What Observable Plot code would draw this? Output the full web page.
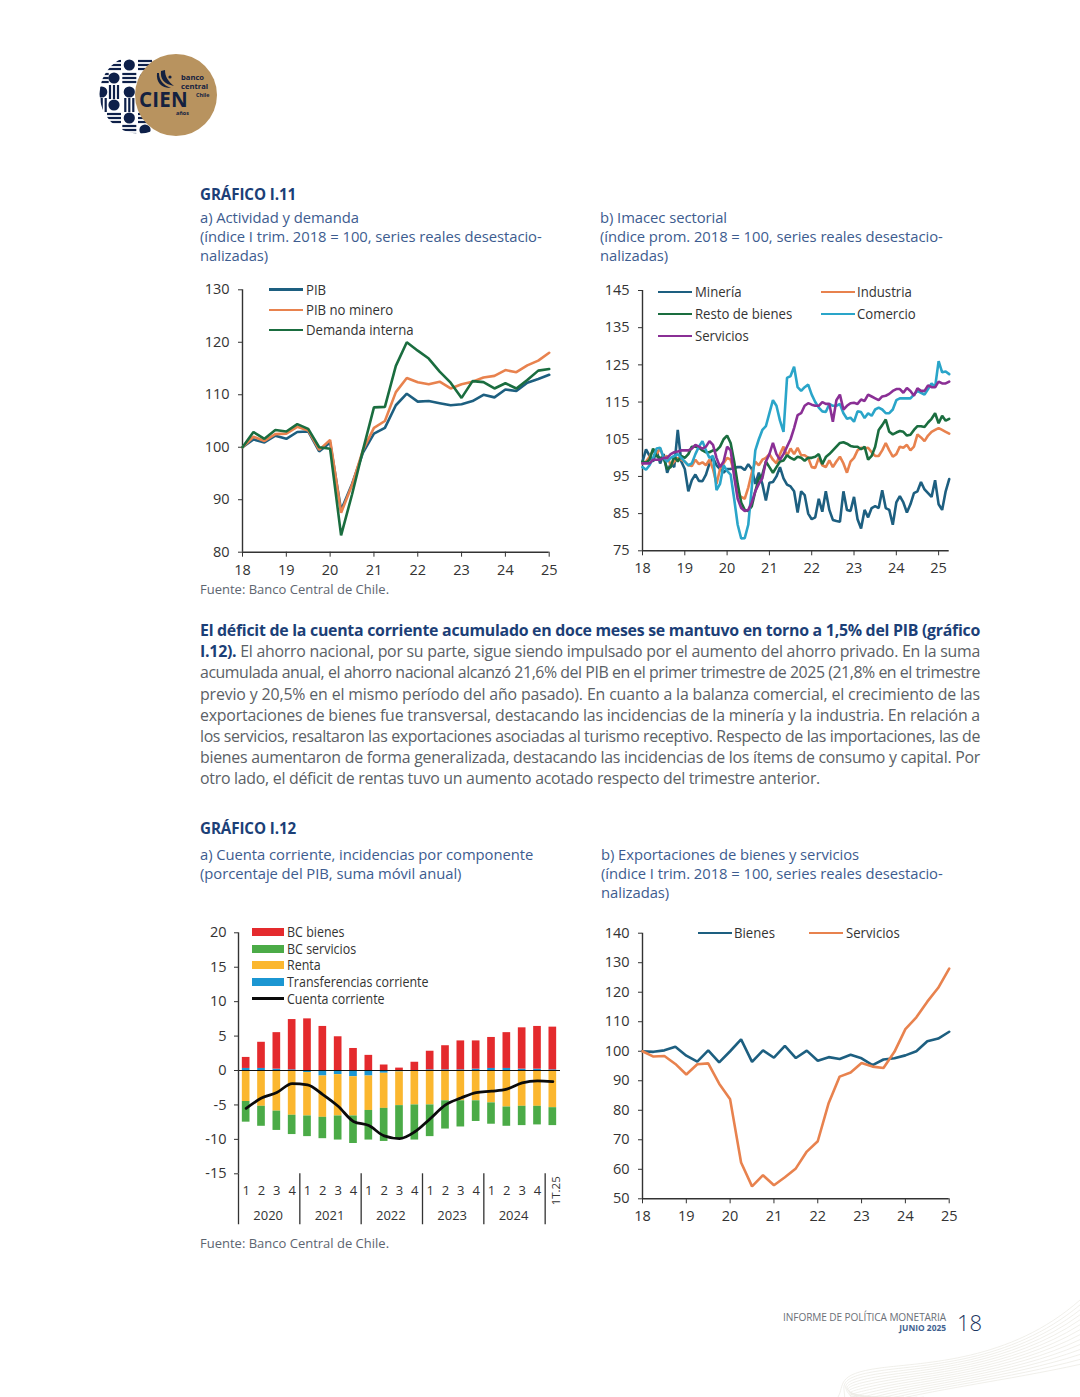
<!DOCTYPE html>
<html lang="es"><head><meta charset="utf-8">
<script src="https://cdn.jsdelivr.net/npm/d3@7"></script>
<script src="https://cdn.jsdelivr.net/npm/@observablehq/plot@0.6"></script>
<style>
html,body{margin:0;padding:0;background:#fff}
#page{position:relative;width:1080px;height:1397px;overflow:hidden;font-family:"Open Sans",sans-serif;background:#fff}
.t{position:absolute;white-space:nowrap}
.h{font-weight:700;font-size:15.2px;color:#1c3f77;letter-spacing:-.1px}
.s{font-size:14.8px;color:#3d5c8f;letter-spacing:-.05px}
.f{font-size:13px;color:#5d6570}
.b{left:200px;font-size:15.9px;color:#5b5f66;line-height:20px}
.b b{color:#1c3f77;font-weight:700}
.lg{position:absolute;font-size:14px;color:#333;line-height:16px;white-space:nowrap;transform-origin:0 50%;transform:scaleX(.94) translateY(-50%)}
.key{position:absolute}
.c{position:absolute}
svg{overflow:visible}
</style></head><body>
<div id="page"></div>
<script>
// ---------- chart I.11 a: Actividad y demanda (quarterly) ----------
const pib = [100,101.5,100.9,102.2,101.6,102.9,103,99.2,100.9,88,93,99,102.6,103.7,108,110.2,108.7,108.8,108.4,108,108.2,108.8,110,109.5,111,110.7,112.3,113,113.8];
const pibNoMinero = [100,102,101.2,102.5,102.6,103.9,103.2,99.5,101.4,87.5,92.8,99.5,103.7,105,110.5,113.2,112.4,112,112.5,111.2,112,112.5,113.3,113.6,114.7,114.3,115.6,116.5,118];
const demandaInterna = [100,102.9,101.6,103.3,103,104.4,103.5,100,99.7,83.2,91,99.5,107.6,107.7,115.5,120,118.4,116.9,114.4,112.3,109.4,112.6,112.4,111.2,112.2,111.2,112.8,114.6,114.9];
// ---------- chart I.11 b: Imacec sectorial (monthly, Jan-18 to Apr-25) ----------
const mineria = [99,102.3,100.5,99,102,98.5,101,96,98.5,97.5,107.5,99,97,91,94,95.5,93.8,93.7,95.5,98.5,100,98,97,96,97,97,97.3,97.5,97.5,96.7,98.3,97,93,96,93,88.5,93.3,93.5,95,97.5,94.5,92.8,92.3,91,85.3,91,90,85,83.5,84,89,85.5,91,86,83.3,83,82.8,91,86,85.7,89.5,83.5,81,86,84,86.5,87,86.5,91.3,86.5,86,82,88,89.7,88,85.3,87.5,90.5,91,93.5,91.5,90.5,89.5,94,87.5,86,91,94.3];
const industria = [98.5,99,100.3,102,101,102.5,100,100.5,98,99,100,99.5,99,98,97.8,99.5,98.3,98.8,98,99.5,97,93,97,98.5,100,99.5,96,90,89.5,89,92,96,99,98,99.5,100,101,99.5,98.5,101,103,100.5,102.5,101,102.7,100.7,100.7,100,97.5,97.3,100,98,97.5,99.3,97.5,99,100.3,98.5,96,99,100,102,102.7,102.5,102.7,101.5,100.5,100.5,102,104,102,100.3,101,103,102.7,103.5,102,103,106.3,105.5,104.5,106,107,107.5,108,107.5,107,106.5];
const restoBienes = [99,98.7,99.5,102.5,100.5,100,100,97,97.5,100.5,99,100.5,100,101,103,103,102.8,102,101.5,101.5,102,102,103,105,106,104,99,93,88,86,85.7,87,91,94.5,95.5,99,97.5,96,97.5,99,99.3,100.7,100,99.5,100.3,100,99.2,100,100,100.3,101,98.3,100.2,101,102,103,104,104.2,103.8,103.2,103,103,102.3,103,99.5,100.5,103,107.5,108.8,110.3,107,106.3,106.8,107.2,107,106,106.2,107.5,108.5,108.5,108.3,109.5,110.5,112,109.3,111.3,110,110.5];
const comercio = [97.5,96.8,98,100,102.5,102.7,100,99,100,100.5,101,100,99,98,98.5,101,103,104.5,102,100,100.5,91.3,93,98,96.5,95.5,89,82,78.3,78.4,82,92,102,105,107.5,108.5,112,115.5,114,110,107,121.5,122,124.5,119,118,119,119.7,117,115,113.5,112.5,112.3,114.5,114,114,114.5,112,110.5,110.8,109.7,112.5,112.3,110.7,112,111.3,113,113.5,113,112,112,113,115.5,116,116,116,116,117,118,117.5,117,118.5,120,119,126,123,123.2,122.5];
const servicios = [98.5,98.5,98.5,99.5,99.5,99.5,100,100,101,101.5,101.7,102,102,102,102.5,103.5,103,102.5,103,104.5,103.5,100,97.5,99,103,102,95,89,86.5,85.7,86,88,91,93,94.5,99,101,104,101,99.5,101,103,105,108,111.5,112,114,114.7,114.3,114,114,115,114.5,114.5,109.7,115.5,117,113,114,114.7,114.8,114.5,115.7,115.3,117,116.5,116,115.5,116.5,116.7,117.2,118,118.5,118.5,117.5,118.8,118,116.7,118.7,118,118,119.5,119,119,120.5,120,120,120.5];
// ---------- chart I.12 a: Cuenta corriente ----------
const trimestres = ["1","2","3","4","1","2","3","4","1","2","3","4","1","2","3","4","1","2","3","4","1T.25"];
const anios = ["2020","2021","2022","2023","2024"];
const bcBienes = [1.6,3.8,5.3,7.3,7.5,6.4,4.9,3.2,2.2,.8,.35,1.2,2.7,3.5,4.2,4.1,4.5,5.2,6,6.2,6.2];
const bcServicios = [-3,-2.9,-2.8,-2.8,-3,-3.1,-3.5,-4,-4.3,-4.8,-4.9,-5.1,-4.6,-4.1,-3.8,-3,-3.1,-2.8,-2.8,-2.7,-2.6];
const renta = [-4.5,-5.2,-5.9,-6.5,-6.3,-6,-6,-5.7,-5,-5.1,-4.9,-5,-5,-4.4,-4.4,-4.4,-4.7,-5.3,-5.2,-5.2,-5.4];
const transferencias = [.3,.3,.2,.1,-.3,-.8,-.6,-.9,-.8,-.4,-.2,0,.1,.1,.1,.2,.3,.3,.2,.2,.1];
const cuentaCorriente = [-5.5,-4,-3.2,-1.9,-2.1,-3.5,-5.2,-7.4,-8,-9.5,-9.9,-8.9,-7,-5,-4,-3.2,-3,-2.7,-1.8,-1.5,-1.6];
// ---------- chart I.12 b: Exportaciones ----------
const bienes = [100,99.8,100.3,101.5,98.5,96.5,100.3,96.2,100,104,96.4,100.3,97.8,101.8,97.7,100.2,96.8,98,97.4,98.8,97.6,95.3,97.2,97.6,98.6,100,103.4,104.3,106.6];
const serviciosX = [100,98.2,98.4,95.7,92.1,95.6,95.9,89,83.7,62.3,54.2,58,54.6,57.3,60.3,66,69.5,82.5,91.4,92.8,96,94.8,94.3,99.8,107.5,111.5,116.8,121.5,128];
const years = [18,19,20,21,22,23,24,25];
// colours
const cBlue="#1d5f80",cOrange="#e8824e",cGreen="#1a6d3f",cSky="#2aa5c9",cPurple="#8a2f95";
const FONT='"Open Sans",sans-serif', INK="#333";
const page=document.getElementById("page");
function put(el,l,t){const d=document.createElement("div");d.className="c";d.style.left=l+"px";d.style.top=t+"px";d.appendChild(el);page.appendChild(d);}
function text(cls,l,t,html,extra){const d=document.createElement("div");d.className="t "+cls;d.style.left=l+"px";d.style.top=t+"px";d.innerHTML=html;if(extra)d.style.cssText+=extra;page.appendChild(d);return d;}
function label(tx,y,s,sx){const l=document.createElement("div");l.className="lg";l.style.left=tx+"px";l.style.top=y+"px";l.textContent=s;if(sx)l.style.transform=`scaleX(${sx}) translateY(-50%)`;page.appendChild(l);}
function lineKey(x1,x2,y,color,s,tx,sx){
  const k=document.createElement("div");k.className="key";k.style.cssText=`left:${x1}px;top:${y-1.25}px;width:${x2-x1}px;height:2.5px;background:${color}`;page.appendChild(k);
  label(tx,y,s,sx);
}
function boxKey(x1,x2,y,color,s,tx,sx){
  const k=document.createElement("div");k.className="key";k.style.cssText=`left:${x1}px;top:${y-4}px;width:${x2-x1}px;height:8px;background:${color}`;page.appendChild(k);
  label(tx,y,s,sx);
}
function linesChart(o){
  const marks=[
    Plot.ruleX([o.xd[0]],{stroke:INK,strokeWidth:1.4}),
    Plot.ruleY([o.yd[0]],{stroke:INK,strokeWidth:1.4}),
    Plot.axisY({ticks:o.yt,tickSize:4,tickPadding:9,fontSize:14.5,label:null,tickFormat:d=>String(d),stroke:INK,fill:INK}),
    Plot.axisX({ticks:years,tickSize:5,tickPadding:o.xpad,fontSize:14.5,label:null,tickFormat:d=>String(d),stroke:INK,fill:INK})
  ];
  for(const s of o.series) marks.push(Plot.line(s.v,{x:(d,i)=>18+i/o.per,y:d=>d,stroke:s.c,strokeWidth:2.6,strokeLinejoin:"miter"}));
  return Plot.plot({width:o.w,height:o.h,marginLeft:o.ml,marginRight:o.mr,marginTop:o.mt,marginBottom:o.mb,
    x:{domain:o.xd},y:{domain:o.yd},style:{fontFamily:FONT,background:"transparent",color:INK},marks});
}
// ---- chart A
put(linesChart({w:380,h:310,ml:52,mr:21.3,mt:14.3,mb:33.3,xpad:8,xd:[18,25],yd:[80,130],yt:[80,90,100,110,120,130],per:4,
  series:[{v:pib,c:cBlue},{v:pibNoMinero,c:cOrange},{v:demandaInterna,c:cGreen}]}),190,275);
// ---- chart B
put(linesChart({w:380,h:310,ml:52,mr:21.3,mt:15,mb:34.7,xpad:7,xd:[18,25.25],yd:[75,145],yt:[75,85,95,105,115,125,135,145],per:12,
  series:[{v:mineria,c:cBlue},{v:industria,c:cOrange},{v:restoBienes,c:cGreen},{v:comercio,c:cSky},{v:servicios,c:cPurple}]}),590,275);
// ---- chart C
const qKeys=trimestres.map((q,i)=>"q"+i);
const comps=[["Transferencias corriente",transferencias,"#1b96d2"],["Renta",renta,"#fbb72f"],["BC servicios",bcServicios,"#4bab47"],["BC bienes",bcBienes,"#e42a2d"]];
const stackRows=comps.flatMap(([name,vals])=>vals.map((v,i)=>({name,k:qKeys[i],v})));
const step=322/21;
const bottom=-22.4;
const chartC=Plot.plot({width:380,height:330,marginLeft:48,marginRight:10,marginTop:17.3,marginBottom:71.7,
  x:{domain:qKeys,paddingInner:.5,paddingOuter:.25,round:false,axis:null},
  y:{domain:[-15,20],axis:null},
  color:{domain:comps.map(c=>c[0]),range:comps.map(c=>c[2])},
  style:{fontFamily:FONT,background:"transparent",color:INK},
  marks:[
    Plot.barY(stackRows,{x:"k",y:"v",fill:"name",order:null}),
    Plot.ruleY([0],{stroke:"#111",strokeWidth:1.1}),
    Plot.line(cuentaCorriente,{x:(d,i)=>qKeys[i],y:d=>d,stroke:"#0b0b0b",strokeWidth:2.8,curve:"monotone-x"}),
    Plot.ruleX([qKeys[0]],{x:d=>d,y1:20,y2:-15,dx:-step/2,stroke:INK,strokeWidth:1.4}),
    Plot.axisY({ticks:[-15,-10,-5,0,5,10,15,20],tickSize:4,tickPadding:8,fontSize:14.5,label:null,tickFormat:d=>String(d),stroke:INK,fill:INK}),
    Plot.ruleX(qKeys.filter((k,i)=>i%4===0),{x:d=>d,y1:-15,y2:bottom,dx:-step/2,stroke:INK,strokeWidth:1.3}),
    Plot.text(qKeys.slice(0,20),{x:d=>d,y:-15,text:(d,i)=>trimestres[i],dy:17,fontSize:13,fill:INK}),
    Plot.text(["q20"],{x:d=>d,y:-15,text:()=>trimestres[20],dx:3.5,dy:17,rotate:-90,fontSize:11.5,fill:INK}),
    Plot.text(anios,{x:(d,i)=>qKeys[i*4+1],y:-15,text:d=>d,dx:step/2-1,dy:42.5,fontSize:13,fill:INK})
  ]});
put(chartC,190,915);
// ---- chart D
put(linesChart({w:380,h:310,ml:52,mr:21.3,mt:17.7,mb:26.7,xpad:7,xd:[18,25],yd:[50,140],yt:[50,60,70,80,90,100,110,120,130,140],per:4,
  series:[{v:bienes,c:cBlue},{v:serviciosX,c:cOrange}]}),590,915);
// ---- legends
lineKey(269,303,289.5,cBlue,"PIB",306);lineKey(269,303,310,cOrange,"PIB no minero",306);lineKey(269,303,330,cGreen,"Demanda interna",306);
lineKey(658,692,292,cBlue,"Minería",695);lineKey(658,692,314,cGreen,"Resto de bienes",695);lineKey(658,692,336,cPurple,"Servicios",695);
lineKey(821,855,292,cOrange,"Industria",857);lineKey(821,855,314,cSky,"Comercio",857);
boxKey(252,284,932,"#e42a2d","BC bienes",287,.89);boxKey(252,284,948.5,"#4bab47","BC servicios",287,.89);boxKey(252,284,965,"#fbb72f","Renta",287,.89);boxKey(252,284,982,"#1b96d2","Transferencias corriente",287,.89);
lineKey(252,284,998.5,"#0b0b0b","Cuenta corriente",287,.89);
lineKey(698,732,933,cBlue,"Bienes",734);lineKey(809,843,933,cOrange,"Servicios",846);
// ---- page text
text("h",200,184,"GRÁFICO I.11");
text("s",200,207,"a) Actividad y demanda");text("s",200,226,"(índice I trim. 2018 = 100, series reales desestacio-");text("s",200,245,"nalizadas)");
text("s",600,207,"b) Imacec sectorial");text("s",600,226,"(índice prom. 2018 = 100, series reales desestacio-");text("s",600,245,"nalizadas)");
text("f",200,580,"Fuente: Banco Central de Chile.");
const body=[
"<b>El déficit de la cuenta corriente acumulado en doce meses se mantuvo en torno a 1,5% del PIB (gráfico</b>",
"<b>I.12).</b> El ahorro nacional, por su parte, sigue siendo impulsado por el aumento del ahorro privado. En la suma",
"acumulada anual, el ahorro nacional alcanzó 21,6% del PIB en el primer trimestre de 2025 (21,8% en el trimestre",
"previo y 20,5% en el mismo período del año pasado). En cuanto a la balanza comercial, el crecimiento de las",
"exportaciones de bienes fue transversal, destacando las incidencias de la minería y la industria. En relación a",
"los servicios, resaltaron las exportaciones asociadas al turismo receptivo. Respecto de las importaciones, las de",
"bienes aumentaron de forma generalizada, destacando las incidencias de los ítems de consumo y capital. Por",
"otro lado, el déficit de rentas tuvo un aumento acotado respecto del trimestre anterior."];
const bodyY=[620,641,662,683.5,705,726,747,768];
body.forEach((l,i)=>{
  const d=text("b",200,bodyY[i],l);
  const target=i===body.length-1?620:780;
  const w=d.getBoundingClientRect().width;
  d.style.letterSpacing=((target-w)/d.textContent.length)+"px";
});
text("h",200,818,"GRÁFICO I.12");
text("s",200,844,"a) Cuenta corriente, incidencias por componente");text("s",200,863,"(porcentaje del PIB, suma móvil anual)");
text("s",601,844,"b) Exportaciones de bienes y servicios");text("s",601,863,"(índice I trim. 2018 = 100, series reales desestacio-");text("s",601,882,"nalizadas)");
text("f",200,1234,"Fuente: Banco Central de Chile.");
text("f",0,1310,"INFORME DE POLÍTICA MONETARIA","left:auto;right:134px;font-size:10.1px;color:#6b7078;letter-spacing:-.1px");
text("f",0,1322,"JUNIO 2025","left:auto;right:134px;font-size:8.4px;font-weight:700;color:#41618f");
text("f",957,1307,"18","font-size:22px;color:#1c3560;font-weight:300");
// ---- decorative logo and corner waves
const NS="http://www.w3.org/2000/svg";
const deco=document.createElementNS(NS,"svg");deco.setAttribute("width",1080);deco.setAttribute("height",1397);deco.style.cssText="position:absolute;left:0;top:0;pointer-events:none";
let inner=`<defs><clipPath id="lc"><circle cx="139" cy="94" r="39.5"/></clipPath></defs><g clip-path="url(#lc)" fill="#0e2049">`;
const D=(x,y)=>`<circle cx="${x}" cy="${y}" r="5.6"/>`;
const H=(x,y)=>[-4,0,4].map(s=>`<rect x="${x-7}" y="${y+s-1.1}" width="14" height="2.2"/>`).join("");
const V=(x,y)=>[-4,0,4].map(s=>`<rect x="${x+s-1.1}" y="${y-7}" width="2.2" height="14"/>`).join("");
const X=[101.7,114,129.3,145];
inner+=H(X[1],65)+D(X[2],65)+H(X[3],65)
 +H(X[0],78)+D(X[1],78)+H(X[2],78)+D(X[3],78)
 +D(X[0],92)+V(X[1],92)+D(X[2],92)+V(X[3],92)
 +V(X[0],105)+D(X[1],105)+V(X[2],105)+D(X[3],105)
 +H(X[1],118)+D(X[2],118)+H(X[3],118)
 +H(X[2],130)+D(X[3],130);
inner+=`</g><circle cx="176" cy="95" r="41" fill="#b8935f"/>
<g fill="#14213f" font-family="Open Sans">
<text x="139" y="107" font-size="20.5" font-weight="700" letter-spacing=".2">CIEN</text>
<text x="181" y="79.5" font-size="7.6" font-weight="700">banco</text>
<text x="181" y="88.5" font-size="7.6" font-weight="700">central</text>
<text x="196" y="96.5" font-size="5.4" font-weight="700">Chile</text>
<text x="176" y="114.5" font-size="5.4" font-weight="700">años</text>
<path d="M161 71c-1 8 3 13 13 15-6-5-9-9-9-16zM157 73c-1 9 4 15 14 15-8-3-12-8-12-15z"/><circle cx="170" cy="77" r="1.6"/></g>`;
for(let i=0;i<14;i++){
  const d=i*5.5;
  inner+=`<path d="M1080 ${1300+d*.9} C1010 ${1362+d*.25},925 ${1362+d*.4},880 ${1368+d*.5} S845 ${1385+d*.3},${838+d*1.2} 1397" fill="none" stroke="#ecebe4" stroke-width=".8"/>`;
}
deco.innerHTML=inner;page.insertBefore(deco,page.firstChild);
</script></body></html>
